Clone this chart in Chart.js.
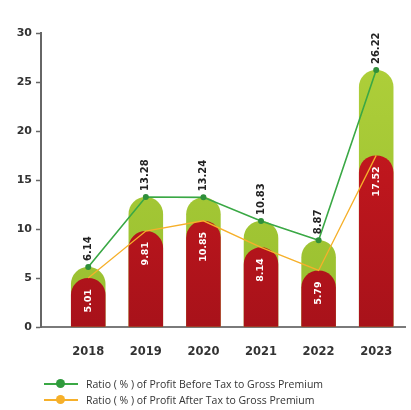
<!DOCTYPE html>
<html>
<head>
<meta charset="utf-8">
<script src="https://cdn.jsdelivr.net/npm/chart.js@4.4.0/dist/chart.umd.min.js"></script>
<style>
  html,body{margin:0;padding:0;background:#fff;}
  #wrap{position:relative;width:411px;height:410px;overflow:hidden;}
  #c{position:absolute;left:0;top:0;}
  .leg{position:absolute;left:44px;font-family:"Open Sans",sans-serif;font-size:10.5px;color:#333;white-space:nowrap;display:flex;align-items:center;}
  .mk{position:relative;width:34px;height:10px;margin-right:8px;}
  .mk .ln{position:absolute;left:0;right:0;top:4px;height:2px;}
  .mk .dt{position:absolute;left:12px;top:0;width:9px;height:9px;border-radius:50%;}
</style>
</head>
<body>
<div id="wrap">
  <canvas id="c" width="411" height="384"></canvas>
  <div class="leg" style="top:377px"><div class="mk"><div class="ln" style="background:#3aa845"></div><div class="dt" style="background:#2f9a3c"></div></div>Ratio ( % ) of Profit Before Tax to Gross Premium</div>
  <div class="leg" style="top:393px"><div class="mk"><div class="ln" style="background:#f6b02a"></div><div class="dt" style="background:#f6b02a"></div></div>Ratio ( % ) of Profit After Tax to Gross Premium</div>
</div>
<script>
const years = [2018, 2019, 2020, 2021, 2022, 2023];
const pbtRatio = [6.14, 13.28, 13.24, 10.83, 8.87, 26.22];
const patRatio = [5.01, 9.81, 10.85, 8.14, 5.79, 17.52];
const yTicks = [0, 5, 10, 15, 20, 25, 30];

const ctx = document.getElementById('c').getContext('2d');

function redGrad(context) {
  const ca = context.chart.chartArea;
  if (!ca) return '#c4161c';
  const g = context.chart.ctx.createLinearGradient(0, ca.top, 0, ca.bottom);
  g.addColorStop(0, '#d21a20');
  g.addColorStop(1, '#a8121a');
  return g;
}
function greenGrad(context) {
  const ca = context.chart.chartArea;
  if (!ca) return '#a6c935';
  const g = context.chart.ctx.createLinearGradient(0, ca.top, 0, ca.bottom);
  g.addColorStop(0, '#b0d03a');
  g.addColorStop(1, '#98bf30');
  return g;
}

const labelPlugin = {
  id: 'barLabels',
  afterDatasetsDraw(chart) {
    const c = chart.ctx;
    const greenMeta = chart.getDatasetMeta(2);
    const redMeta = chart.getDatasetMeta(3);
    c.save();
    c.font = 'bold 10px "DejaVu Sans", sans-serif';
    c.textBaseline = 'middle';
    greenMeta.data.forEach((el, i) => {
      c.save();
      c.translate(el.x, el.y - 6);
      c.rotate(-Math.PI / 2);
      c.textAlign = 'left';
      c.fillStyle = '#222';
      c.fillText(pbtRatio[i].toFixed(2), 0, 0);
      c.restore();
    });
    c.font = 'bold 9.5px "DejaVu Sans", sans-serif';
    redMeta.data.forEach((el, i) => {
      c.save();
      c.translate(el.x, el.y + 11);
      c.rotate(-Math.PI / 2);
      c.textAlign = 'right';
      c.fillStyle = '#fff';
      c.fillText(patRatio[i].toFixed(2), 0, 0);
      c.restore();
    });
    c.restore();
  }
};

new Chart(ctx, {
  data: {
    labels: years,
    datasets: [
      {
        type: 'line', label: 'Ratio ( % ) of Profit Before Tax to Gross Premium',
        data: pbtRatio, borderColor: '#3aa845', borderWidth: 1.6,
        pointRadius: 3, pointBackgroundColor: '#2f8f3a', pointBorderWidth: 0,
        tension: 0, order: 1
      },
      {
        type: 'line', label: 'Ratio ( % ) of Profit After Tax to Gross Premium',
        data: patRatio, borderColor: '#f6b02a', borderWidth: 1.3,
        pointRadius: 0, tension: 0, order: 2
      },
      {
        type: 'bar', label: 'PBT', data: pbtRatio, backgroundColor: greenGrad,
        grouped: false, barPercentage: 0.6, categoryPercentage: 1,
        borderRadius: {topLeft: 17, topRight: 17, bottomLeft: 0, bottomRight: 0},
        borderSkipped: 'bottom', order: 4
      },
      {
        type: 'bar', label: 'PAT', data: patRatio, backgroundColor: redGrad,
        grouped: false, barPercentage: 0.6, categoryPercentage: 1,
        borderRadius: {topLeft: 17, topRight: 17, bottomLeft: 0, bottomRight: 0},
        borderSkipped: 'bottom', order: 3
      }
    ]
  },
  options: {
    responsive: false,
    animation: false,
    layout: {padding: {top: 33, right: 6, bottom: 7, left: 6}},
    plugins: {legend: {display: false}, tooltip: {enabled: false}},
    scales: {
      x: {
        type: 'linear', min: 2017.18, max: 2023.5, offset: false,
        border: {color: '#7a7a7a', width: 2},
        grid: {display: false, drawTicks: false, offset: false},
        ticks: {
          stepSize: 1, includeBounds: false, padding: 18,
          color: '#333', font: {family: '"DejaVu Sans", sans-serif', weight: 'bold', size: 11.5},
          callback: (v) => years.includes(v) ? String(v) : ''
        }
      },
      y: {
        min: yTicks[0], max: yTicks[yTicks.length - 1],
        afterBuildTicks: (s) => { s.ticks = yTicks.map(v => ({value: v})); },
        border: {color: '#666', width: 2},
        grid: {drawOnChartArea: false, tickLength: 5, color: '#666', tickWidth: 1.5},
        ticks: {
          padding: 4, color: '#333',
          font: {family: '"DejaVu Sans", sans-serif', weight: 'bold', size: 11}
        },
        afterFit: (s) => { s.width = 35; }
      }
    }
  },
  plugins: [labelPlugin]
});
</script>
</body>
</html>
